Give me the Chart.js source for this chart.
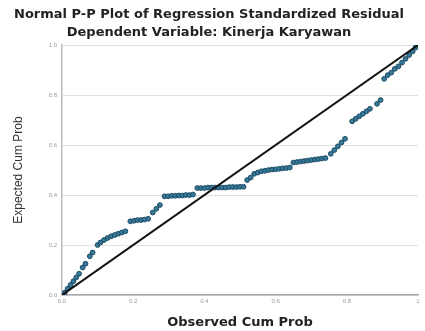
<!DOCTYPE html>
<html>
<head>
<meta charset="utf-8">
<script src="https://cdn.jsdelivr.net/npm/chart.js@4/dist/chart.umd.min.js"></script>
<style>
  html, body { margin: 0; padding: 0; background: #fff; }
  #wrap { width: 425px; height: 331px; }
</style>
</head>
<body>
<div id="wrap"><canvas id="ppPlot"></canvas></div>
<script>
// Observed vs expected cumulative probability
const obsProb = [
    0.008, 0.016, 0.024, 0.032, 0.040, 0.048,
    0.058, 0.066, 0.078, 0.086,
    0.100, 0.108, 0.118, 0.128, 0.138, 0.148, 0.158, 0.168, 0.178,
    0.192, 0.202, 0.212, 0.222, 0.232, 0.242,
    0.255, 0.265, 0.275,
    0.288, 0.298, 0.308, 0.318, 0.328, 0.338, 0.348, 0.358, 0.368,
    0.380, 0.390, 0.400, 0.410, 0.420, 0.430, 0.440, 0.450, 0.460, 0.470, 0.480, 0.490, 0.500, 0.510,
    0.520, 0.530, 0.540, 0.550,
    0.560, 0.570, 0.580, 0.590, 0.600, 0.610, 0.620, 0.630, 0.640,
    0.650, 0.660, 0.670, 0.680, 0.690, 0.700, 0.710, 0.720, 0.730, 0.740,
    0.755, 0.765, 0.775, 0.785, 0.795,
    0.815, 0.825, 0.835, 0.845, 0.855, 0.865,
    0.885, 0.895,
    0.905, 0.915, 0.925, 0.935, 0.945, 0.955, 0.965, 0.975, 0.985, 0.993, 1.000
];
const expProb = [
    0.010, 0.025, 0.040, 0.055, 0.070, 0.085,
    0.110, 0.125, 0.155, 0.170,
    0.200, 0.210, 0.220, 0.228, 0.235, 0.240, 0.245, 0.250, 0.255,
    0.295, 0.297, 0.300, 0.300, 0.302, 0.305,
    0.330, 0.345, 0.360,
    0.395, 0.395, 0.397, 0.397, 0.398, 0.398, 0.400, 0.400, 0.402,
    0.428, 0.428, 0.428, 0.430, 0.430, 0.430, 0.430, 0.430, 0.430, 0.432, 0.432, 0.432, 0.433, 0.433,
    0.460, 0.470, 0.485, 0.490,
    0.495, 0.497, 0.500, 0.502, 0.503, 0.505, 0.507, 0.508, 0.510,
    0.530, 0.532, 0.534, 0.536, 0.538, 0.540, 0.542, 0.544, 0.546, 0.548,
    0.565, 0.580, 0.595, 0.610, 0.625,
    0.695, 0.705, 0.715, 0.725, 0.735, 0.745,
    0.765, 0.780,
    0.865, 0.880, 0.890, 0.905, 0.915, 0.930, 0.945, 0.960, 0.975, 0.990, 1.000
];
const yTickLabels = ['0.0', '0.2', '0.4', '0.6', '0.8', '1.0'];
const xTickLabels = ['0.0', '0.2', '0.4', '0.6', '0.8', '1'];
const refLine = [0, 1];

const points = obsProb.map((x, i) => ({ x: x, y: expProb[i] }));

new Chart(document.getElementById('ppPlot'), {
    type: 'scatter',
    data: {
        datasets: [
            {
                // diagonal reference drawn on top of the dots
                type: 'line',
                data: refLine.map(v => ({ x: v, y: v })),
                borderColor: '#111',
                borderWidth: 2,
                pointRadius: 0,
                fill: false
            },
            {
                data: points,
                backgroundColor: '#357898',
                borderColor: '#1c4a63',
                borderWidth: 1,
                pointRadius: 2.4
            }
        ]
    },
    options: {
        responsive: true,
        maintainAspectRatio: false,
        animation: false,
        layout: { padding: { left: 0, right: 7, top: 0, bottom: 0 } },
        plugins: {
            legend: { display: false },
            tooltip: { enabled: false },
            title: {
                display: true,
                text: ['Normal P-P Plot of Regression Standardized Residual', 'Dependent Variable: Kinerja Karyawan'],
                color: '#222',
                font: { family: '"DejaVu Sans", Arial, sans-serif', size: 13, weight: 'bold', lineHeight: 1.35 },
                padding: { top: 6, bottom: 4 }
            }
        },
        scales: {
            x: {
                type: 'linear',
                min: 0,
                max: 1,
                afterFit: function(scale) { scale.height = 36; },
                afterBuildTicks: function(scale) {
                    scale.ticks = xTickLabels.map(t => ({ value: parseFloat(t) }));
                },
                grid: { display: false, drawTicks: false },
                border: { display: true, color: '#aaa', width: 1.5 },
                ticks: {
                    color: '#999',
                    font: { family: 'Arial, sans-serif', size: 6 },
                    padding: 3,
                    callback: function(v, i) { return xTickLabels[i]; }
                },
                title: {
                    display: true,
                    text: 'Observed Cum Prob',
                    color: '#222',
                    font: { family: '"DejaVu Sans", Arial, sans-serif', size: 13, weight: 'bold' },
                    padding: { top: 4, bottom: 1 }
                }
            },
            y: {
                type: 'linear',
                min: 0,
                max: 1,
                afterFit: function(scale) { scale.width = 62; },
                afterBuildTicks: function(scale) {
                    scale.ticks = yTickLabels.map(t => ({ value: parseFloat(t) }));
                },
                grid: { color: '#e2e2e2', lineWidth: 1, drawTicks: false },
                border: { display: true, color: '#bbb', width: 1.5 },
                ticks: {
                    color: '#999',
                    font: { family: 'Arial, sans-serif', size: 6 },
                    padding: 5,
                    callback: function(v, i) { return yTickLabels[i]; }
                },
                title: {
                    display: true,
                    text: 'Expected Cum Prob',
                    color: '#333',
                    font: { family: '"Liberation Sans Narrow", Arial, sans-serif', size: 12 },
                    padding: { top: 11, bottom: 0 }
                }
            }
        }
    }
});
</script>
</body>
</html>
